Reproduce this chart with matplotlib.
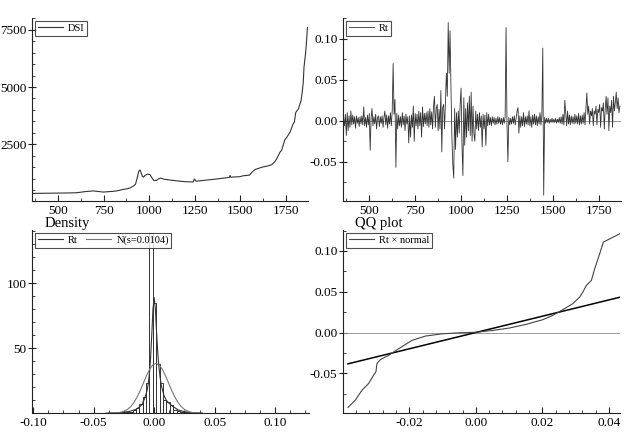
import matplotlib
matplotlib.use("Agg")
import matplotlib.pyplot as plt
from matplotlib.ticker import MultipleLocator, FormatStrFormatter

plt.rcParams["font.family"] = ["Liberation Serif", "DejaVu Serif"]
plt.rcParams["axes.unicode_minus"] = False

dsi_obs = [362, 400, 450, 500, 550, 602, 650, 694, 749, 800, 822, 850, 876,
           895, 913, 925, 935, 942, 949, 955, 962, 968, 978, 990, 1004, 1015,
           1026, 1040, 1052, 1063, 1080, 1114, 1160, 1200, 1241, 1248, 1256,
           1300, 1370, 1440, 1443, 1447, 1497, 1515, 1550, 1565, 1580, 1616,
           1650, 1671, 1689, 1698, 1716, 1726, 1743, 1753, 1771, 1789, 1795,
           1803, 1817, 1832, 1839, 1844, 1848, 1857, 1862, 1867]
dsi_val = [360, 365, 370, 375, 380, 390, 440, 470, 420, 450, 470, 520, 560,
           600, 680, 760, 1060, 1300, 1390, 1280, 1120, 1070, 1150, 1200, 1180,
           1040, 920, 930, 1000, 1030, 980, 946, 900, 870, 860, 990, 890,
           930, 990, 1060, 1150, 1070, 1090, 1130, 1160, 1300, 1400, 1500,
           1560, 1613, 1750, 1862, 2150, 2250, 2700, 2800, 3021, 3400, 3458,
           3894, 4040, 4404, 4838, 5201, 5856, 6500, 7000, 7600]

# Rt returns, one value every 5 observations from obs 360
rt_first = 360
rt_step = 5
rt_val = [
    0.004, -0.006, 0.008, -0.018, 0.010, -0.012, 0.006, -0.008, 0.012, -0.005,
    0.007, -0.004, 0.005, -0.009, 0.006, -0.003, 0.004, -0.007, 0.005, -0.004,
    0.006, -0.005, 0.017, -0.006, 0.004, -0.008, 0.007, -0.005, 0.009, -0.036,
    0.004, 0.015, -0.006, 0.005, -0.004, 0.008, -0.010, 0.004, 0.006, -0.007,
    0.005, -0.003, 0.006, -0.008, 0.004, 0.012, -0.005, 0.007, -0.009, 0.006,
    -0.004, 0.010, -0.006, 0.012, 0.070, 0.008, 0.026, -0.057, 0.009, -0.010,
    0.007, -0.006, 0.005, -0.008, 0.010, -0.005, 0.006, -0.012, 0.008, -0.004,
    0.005, -0.027, 0.006, -0.020, 0.007, -0.008, 0.018, -0.025, 0.009, -0.006,
    0.008, -0.010, 0.012, -0.006, 0.010, -0.020, 0.017, -0.007, 0.009, -0.004,
    0.010, -0.006, 0.012, -0.008, 0.015, -0.005, 0.011, -0.010, 0.018, 0.030,
    -0.008, 0.015, 0.020, -0.012, 0.014, -0.010, 0.037, -0.038, 0.016, 0.020,
    -0.010, 0.025, 0.058, 0.030, 0.120, 0.058, 0.110, 0.040, -0.020, -0.053,
    -0.070, 0.015, -0.035, 0.010, -0.020, 0.012, -0.015, 0.020, 0.040, -0.030,
    -0.067, 0.028, -0.030, 0.015, -0.020, 0.022, -0.012, 0.030, -0.018, 0.035,
    -0.025, 0.018, -0.015, -0.025, 0.012, -0.010, 0.008, -0.012, 0.010, -0.008,
    0.006, -0.032, 0.008, -0.010, 0.007, -0.030, 0.010, -0.006, 0.008, -0.005,
    0.004, -0.006, 0.005, -0.003, 0.004, -0.005, 0.003, -0.004, 0.005, -0.003,
    0.004, -0.004, 0.003, -0.005, 0.004, -0.003, 0.005, 0.114, -0.004, -0.050,
    0.004, -0.005, 0.003, -0.004, 0.005, -0.003, 0.006, -0.005, 0.004, 0.012,
    0.016, -0.015, 0.006, -0.008, 0.005, -0.006, 0.010, -0.007, 0.005, -0.004,
    0.006, -0.005, 0.012, -0.006, 0.005, -0.008, 0.007, -0.004, 0.008, -0.005,
    0.006, -0.006, 0.005, -0.004, 0.010, -0.005, 0.007, 0.089, -0.091, 0.004,
    -0.003, 0.003, -0.002, 0.003, -0.003, 0.002, -0.002, 0.003, -0.002, 0.002,
    -0.002, 0.003, -0.003, 0.002, -0.002, 0.004, -0.003, 0.005, -0.004, 0.008,
    -0.005, 0.025, 0.010, -0.006, 0.012, -0.004, 0.007, -0.005, 0.006, -0.003,
    0.005, -0.004, 0.008, -0.003, 0.006, -0.004, 0.009, -0.005, 0.006, -0.004,
    0.007, -0.003, 0.010, -0.005, 0.015, 0.034, 0.008, 0.018, -0.004, 0.012,
    0.006, 0.015, -0.006, 0.012, 0.008, 0.018, -0.005, 0.014, 0.010, 0.020,
    -0.008, 0.016, 0.012, 0.022, -0.010, 0.014, 0.030, 0.008, 0.028, -0.012,
    0.018, 0.010, 0.025, -0.008, 0.030, 0.012, 0.022, 0.035, 0.015, 0.028,
    0.010, 0.018,
]
rt_obs = list(range(rt_first, rt_first + rt_step * len(rt_val), rt_step))

# histogram of Rt (bin centres, density heights)
hist_centers = [-0.0333, -0.0305, -0.0277, -0.0249, -0.0221, -0.0193, -0.0165,
                -0.0137, -0.0109, -0.0081, -0.0053, -0.0025, 0.0003, 0.0031,
                0.0059, 0.0087, 0.0115, 0.0143, 0.0171, 0.0199, 0.0227, 0.0255,
                0.0283, 0.0311, 0.0339]
hist_heights = [0.3, 0.4, 0.6, 0.8, 1.0, 1.3, 2.3, 4.4, 7.0, 12.6, 23.6, 139,
                85, 38, 23.6, 10, 8.7, 6, 2.8, 1.5, 1.0, 0.6, 0.4, 0.3, 0.2]
bin_width = 0.0028

# kernel density of Rt
kde_x = [-0.04, -0.03, -0.025, -0.02, -0.015, -0.012, -0.01, -0.008, -0.006,
         -0.005, -0.004, -0.003, -0.002, -0.001, 0.0, 0.001, 0.002, 0.003,
         0.004, 0.005, 0.006, 0.008, 0.01, 0.012, 0.015, 0.02, 0.025, 0.03, 0.04]
kde_y = [0.1, 0.4, 0.8, 1.5, 3, 5, 7, 11, 17, 22, 30, 42, 60, 80, 89, 80, 62,
         46, 35, 27, 21, 14, 10, 8, 5.5, 2.5, 1.2, 0.5, 0.1]

# normal density N(s=0.0104)
norm_x = [-0.0349, -0.0323, -0.0297, -0.0271, -0.0245, -0.0219, -0.0193,
          -0.0167, -0.0141, -0.0115, -0.0089, -0.0063, -0.0037, -0.0011,
          0.0015, 0.0041, 0.0067, 0.0093, 0.0119, 0.0145, 0.0171, 0.0197,
          0.0223, 0.0249, 0.0275, 0.0301, 0.0327, 0.0353, 0.0379]
norm_y = [0.08, 0.19, 0.43, 0.87, 1.69, 3.05, 5.2, 8.3, 12.5, 17.5, 23.3,
          29.0, 33.9, 37.2, 38.4, 37.2, 33.9, 29.0, 23.3, 17.5, 12.5, 8.3,
          5.2, 3.05, 1.69, 0.87, 0.43, 0.19, 0.08]

# QQ plot: normal quantiles vs Rt quantiles
qq_x = [-0.0384, -0.0362, -0.0342, -0.0322, -0.0307, -0.0300, -0.0297,
        -0.0287, -0.0262, -0.0232, -0.0192, -0.0152, -0.0101, -0.0051, 0.0,
        0.0050, 0.0101, 0.0151, 0.0201, 0.0231, 0.0261, 0.0291, 0.0312,
        0.0322, 0.0332, 0.0347, 0.0357, 0.0372, 0.0383, 0.0403, 0.0433]
qq_y = [-0.0919, -0.0829, -0.0707, -0.0625, -0.0523, -0.0480, -0.0380,
        -0.0333, -0.0280, -0.0199, -0.0097, -0.0044, -0.0016, -0.0004,
        0.0003, 0.0025, 0.0055, 0.0100, 0.0157, 0.0210, 0.0280, 0.0353,
        0.0435, 0.0500, 0.0578, 0.0639, 0.0782, 0.0966, 0.1109, 0.1150, 0.1212]

DARK = "#333333"
GREY = "#8a8a8a"
W, H = 624, 447


def box(l, t, r, b):
    return [l / W, 1 - b / H, (r - l) / W, (b - t) / H]


def style(ax, xmaj, xmin, ymaj, ymin, xfmt, yfmt):
    for s in ("top", "right"):
        ax.spines[s].set_visible(False)
    for s in ("left", "bottom"):
        ax.spines[s].set_color("#222222")
        ax.spines[s].set_linewidth(0.8)
    ax.xaxis.set_major_locator(MultipleLocator(xmaj))
    ax.xaxis.set_minor_locator(MultipleLocator(xmin))
    ax.yaxis.set_major_locator(MultipleLocator(ymaj))
    ax.yaxis.set_minor_locator(MultipleLocator(ymin))
    ax.xaxis.set_major_formatter(FormatStrFormatter(xfmt))
    ax.yaxis.set_major_formatter(FormatStrFormatter(yfmt))
    ax.tick_params(axis="x", which="major", direction="in", length=4,
                   width=0.8, labelsize=9.5, pad=3, color="#222222")
    ax.tick_params(axis="x", which="minor", direction="in", length=2.5,
                   width=0.6, color="#222222")
    ax.tick_params(axis="y", which="major", direction="inout", length=6,
                   width=0.8, labelsize=9.5, pad=1, color="#222222")
    ax.tick_params(axis="y", which="minor", direction="in", length=2.5,
                   width=0.6, color="#222222")
    ax.tick_params(top=False, right=False, which="both")


def legend(ax, ncol=1):
    leg = ax.legend(loc="upper left", ncol=ncol, fontsize=7.5, frameon=True,
                    fancybox=False, borderpad=0.25, handlelength=2.4,
                    handletextpad=0.5, columnspacing=0.8, borderaxespad=0.3)
    leg.get_frame().set_edgecolor("#222222")
    leg.get_frame().set_linewidth(0.8)


fig = plt.figure(figsize=(6.24, 4.47), dpi=100)

# top-left: DSI
ax1 = fig.add_axes(box(32, 18, 308, 201))
ax1.plot(dsi_obs, dsi_val, color=DARK, lw=0.8, label="DSI")
ax1.set_xlim(358, 1870)
ax1.set_ylim(30, 8010)
style(ax1, 250, 125, 2500, 500, "%d", "%d")
legend(ax1)

# top-right: Rt
ax2 = fig.add_axes(box(343, 18, 621, 201))
ax2.axhline(0, color=GREY, lw=0.6)
ax2.plot(rt_obs, rt_val, color=DARK, lw=0.6, label="Rt")
ax2.set_xlim(357, 1871)
ax2.set_ylim(-0.098, 0.1256)
style(ax2, 250, 125, 0.05, 0.025, "%d", "%.2f")
legend(ax2)

# bottom-left: density
ax3 = fig.add_axes(box(32, 230, 309, 413))
ax3.bar(hist_centers, hist_heights, width=bin_width, facecolor="white",
        edgecolor=DARK, linewidth=0.7)
ax3.plot(kde_x, kde_y, color=DARK, lw=0.8, label="Rt")
ax3.plot(norm_x, norm_y, color="#777777", lw=0.8, label="N(s=0.0104)")
ax3.set_xlim(-0.101, 0.128)
ax3.set_ylim(0.2, 141)
style(ax3, 0.05, 0.0125, 50, 10, "%.2f", "%d")
legend(ax3, ncol=2)

# bottom-right: QQ plot
ax4 = fig.add_axes(box(343, 230, 620, 413))
ax4.axhline(0, color=GREY, lw=0.6)
ax4.plot([qq_x[0], qq_x[-1]], [qq_x[0], qq_x[-1]], color="black", lw=1.1)
ax4.plot(qq_x, qq_y, color="#444444", lw=0.8, label="Rt \u00d7 normal")
ax4.set_xlim(-0.0399, 0.0433)
ax4.set_ylim(-0.0987, 0.1257)
style(ax4, 0.02, 0.004, 0.05, 0.025, "%.2f", "%.2f")
legend(ax4)

fig.text(45 / W, 1 - 227 / H, "Density", fontsize=10.5, va="baseline")
fig.text(355 / W, 1 - 227 / H, "QQ plot", fontsize=10.5, va="baseline")

fig.savefig("out.png", dpi=100)
